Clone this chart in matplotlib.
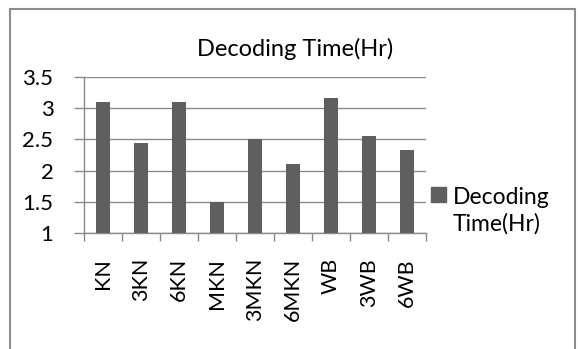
import matplotlib
matplotlib.use("Agg")
import matplotlib.pyplot as plt
from matplotlib.patches import Rectangle, Patch

categories = ["KN", "3KN", "6KN", "MKN", "3MKN", "6MKN", "WB", "3WB", "6WB"]
values = [3.1, 2.45, 3.1, 1.5, 2.5, 2.1, 3.16, 2.55, 2.33]
yticks = [1, 1.5, 2, 2.5, 3, 3.5]
ytick_labels = ["1", "1.5", "2", "2.5", "3", "3.5"]
series_name = "Decoding\nTime(Hr)"
title = "Decoding Time(Hr)"

plt.rcParams['font.family'] = ['Lato', 'DejaVu Sans']
W, H = 578, 349
FS = 15.5
fig = plt.figure(figsize=(W/100, H/100), dpi=100)
fig.patch.set_facecolor("white")

# outer chart border
fig.patches.append(Rectangle((9.5/W, -0.1), (575-9.5)/W, 1 - 9.5/H + 0.1, transform=fig.transFigure,
                             fill=False, edgecolor="#8c8c8c", linewidth=1.5))

left, right, top, bottom = 84, 426, 77, 233
ax = fig.add_axes([left/W, 1-bottom/H, (right-left)/W, (bottom-top)/H])
x = list(range(len(categories)))
ax.bar(x, values, width=0.38, color="#5f5f5f", zorder=3)
ax.set_ylim(1, 3.5)
ax.set_xlim(-0.5, len(categories)-0.5)
ax.set_yticks(yticks)
ax.set_yticklabels(ytick_labels, fontsize=16)
ax.yaxis.grid(True, color="#8a8a8a", linewidth=1, zorder=0)
ax.set_xticks(x)
ax.set_xticklabels(categories, rotation=90, fontsize=FS)
ax.tick_params(axis='x', which='major', length=0, pad=18)
ax.set_xticks([i-0.5 for i in range(len(categories)+1)], minor=True)
ax.tick_params(axis='x', which='minor', length=6, color="#8a8a8a", width=1)
ax.tick_params(axis='y', length=7, color="#8a8a8a", width=1, pad=15)
for s in ["top", "right"]:
    ax.spines[s].set_visible(False)
for s in ["left", "bottom"]:
    ax.spines[s].set_color("#8a8a8a")
    ax.spines[s].set_linewidth(1)

fig.text(295/W, 1-49/H, title, ha="center", va="center", fontsize=17)

leg = fig.legend(handles=[Patch(color="#5f5f5f", label=series_name)],
                 loc="upper left", bbox_to_anchor=(431/W, 1-187/H), frameon=False,
                 fontsize=16.5, handlelength=0.65, handleheight=0.6, handletextpad=0.3,
                 borderpad=0, borderaxespad=0)
for t in leg.get_texts():
    t.set_linespacing(1.3)
# align the square with the first text line
for col in leg._legend_handle_box.get_children():
    for row in col.get_children():
        row.align = "top"

fig.savefig("out.png", dpi=100)
